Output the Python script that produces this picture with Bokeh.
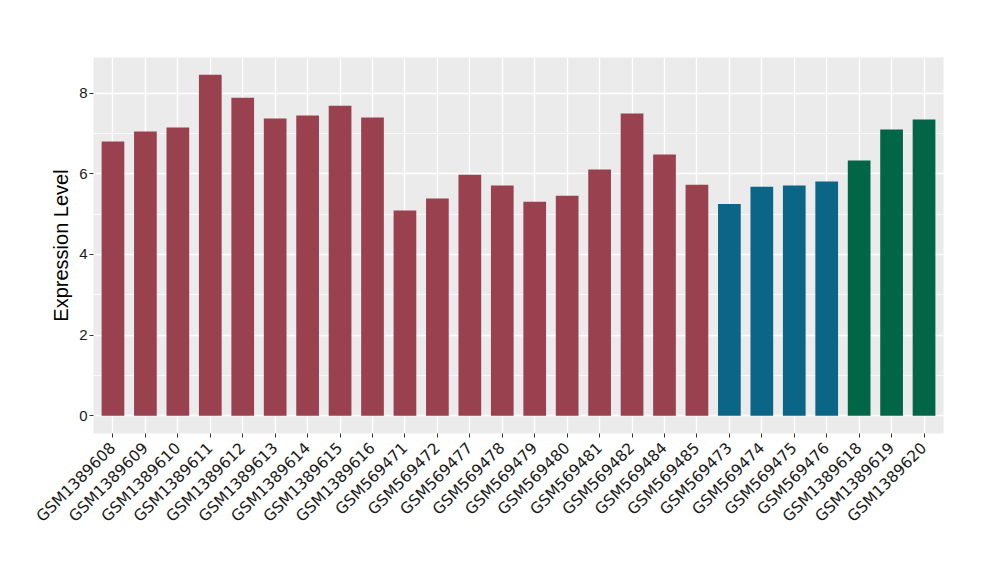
import math
from bokeh.plotting import figure
from bokeh.models import ColumnDataSource, Range1d, FixedTicker, SingleIntervalTicker
from bokeh.embed import file_html
from bokeh.resources import INLINE

samples = ["GSM1389608", "GSM1389609", "GSM1389610", "GSM1389611", "GSM1389612",
           "GSM1389613", "GSM1389614", "GSM1389615", "GSM1389616", "GSM569471",
           "GSM569472", "GSM569477", "GSM569478", "GSM569479", "GSM569480",
           "GSM569481", "GSM569482", "GSM569484", "GSM569485", "GSM569473",
           "GSM569474", "GSM569475", "GSM569476", "GSM1389618", "GSM1389619",
           "GSM1389620"]
values = [6.80, 7.05, 7.15, 8.46, 7.89, 7.37, 7.45, 7.69, 7.40, 5.09,
          5.39, 5.98, 5.71, 5.31, 5.46, 6.11, 7.50, 6.48, 5.73, 5.25,
          5.68, 5.71, 5.81, 6.33, 7.10, 7.35]
groups = ["A"] * 19 + ["B"] * 4 + ["C"] * 3
group_colors = {"A": "#9a4150", "B": "#0b6586", "C": "#006645"}

xs = list(range(1, len(samples) + 1))
src = ColumnDataSource(dict(x=xs, top=values, color=[group_colors[g] for g in groups]))

p = figure(width=1000, height=580, output_backend="svg", toolbar_location=None,
           x_range=Range1d(0.4, len(samples) + 0.6), y_range=Range1d(-0.44, 8.886),
           min_border_left=93, min_border_right=57, min_border_top=57, min_border_bottom=147)
p.background_fill_color = "#EBEBEB"
p.border_fill_color = "white"
p.outline_line_color = None

p.vbar(x="x", top="top", bottom=0, width=0.7, fill_color="color", line_color=None, source=src)

p.xaxis.ticker = FixedTicker(ticks=xs)
p.xaxis.major_label_overrides = {i: s for i, s in zip(xs, samples)}
p.xaxis.major_label_orientation = math.pi / 4
p.yaxis.ticker = SingleIntervalTicker(interval=2, num_minor_ticks=2)

for ax in (p.xaxis[0], p.yaxis[0]):
    ax.axis_line_color = None
    ax.major_tick_line_color = "#333333"
    ax.major_tick_in = 0
    ax.major_tick_out = 4
    ax.minor_tick_line_color = None
    ax.major_label_text_color = "#1a1a1a"

p.xaxis.major_label_text_font = "DejaVu Sans"
p.xaxis.major_label_text_font_size = "15.5px"
p.xaxis.major_label_standoff = 8
p.yaxis.major_label_text_font = "Liberation Sans"
p.yaxis.major_label_text_font_size = "15px"
p.yaxis.major_label_standoff = 2
p.yaxis.axis_label = "Expression Level"
p.yaxis.axis_label_text_font = "Liberation Sans"
p.yaxis.axis_label_text_font_size = "20px"
p.yaxis.axis_label_text_font_style = "normal"
p.yaxis.axis_label_text_color = "black"
p.yaxis.axis_label_standoff = 4

p.xgrid.grid_line_color = "white"
p.xgrid.grid_line_width = 1.4
p.ygrid.grid_line_color = "white"
p.ygrid.grid_line_width = 1.4
p.ygrid.minor_grid_line_color = "white"
p.ygrid.minor_grid_line_width = 0.7

open("out.html", "w").write(file_html(p, INLINE))
